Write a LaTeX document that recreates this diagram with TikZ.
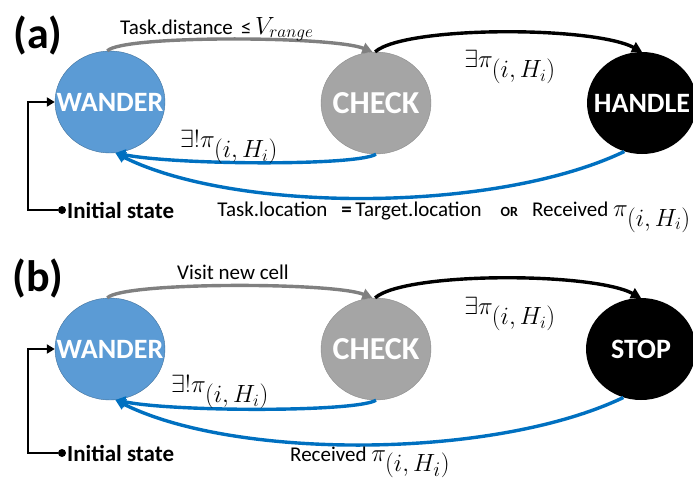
\documentclass[tikz,border=0pt]{standalone}
\usepackage{amsmath,amssymb}
\usepackage{fontspec}
\setmainfont{Carlito}
\usetikzlibrary{arrows.meta,shapes.geometric}

\definecolor{wanderblue}{HTML}{5B9BD5}
\definecolor{wanderedge}{HTML}{41719C}
\definecolor{checkgray}{HTML}{A5A5A5}
\definecolor{checkedge}{HTML}{8C8C8C}
\definecolor{backblue}{HTML}{0070C0}
\definecolor{walkgray}{HTML}{808080}

\tikzset{
  statetext/.style={text=white, inner sep=0pt, font=\fontsize{28}{28}\selectfont\bfseries},
  state/.style={ellipse, minimum width=110pt, minimum height=102pt, inner sep=0pt,
    label={[statetext]center:#1}},
  trans/.style={line width=3.4pt, -{Triangle[length=10pt,width=11pt]}},
  lbl/.style={font=\fontsize{21}{21}\selectfont, inner sep=0pt},
  cond/.style={font=\fontsize{24}{24}\selectfont, inner sep=0pt},
  tag/.style={font=\fontsize{44}{44}\selectfont\bfseries, inner sep=0pt}
}

\begin{document}
\begin{tikzpicture}[x=1pt, y=-1pt]
  \useasboundingbox (0,0) rectangle (693,480);
  \clip (0,0) rectangle (693,480);

  % --- (a) task handling ---
  \node[tag] (tagA) at (38,35) {(a)};
  \node[state=WANDER, fill=wanderblue, draw=wanderedge] (wanderA) at (110,102) {};
  \node[state={\fontsize{32}{32}\selectfont CHECK}, fill=checkgray, draw=checkedge] (checkA) at (376,103) {};
  \node[state=HANDLE, fill=black] (handleA) at (642,103) {};

  \draw[trans, walkgray] (wanderA.93) .. controls +(15,-16) and +(-40,-16) .. (checkA.94);
  \draw[trans, black] (checkA.91) .. controls +(30,-26) and +(-50,-26) .. (handleA.90);
  \draw[trans, backblue] (checkA.270) .. controls +(-20,12) and +(60,12) .. (wanderA.276);
  \draw[trans, backblue] (handleA.250) .. controls +(-130,62) and +(120,60) .. (wanderA.276);

  \node[lbl, anchor=base west] (distA) at (120,34) {Task.distance \,≤\,{\fontsize{26}{26}\selectfont$V_{range}$}};
  \node[cond] (existsA) at (510,67) {$\exists\pi_{\textstyle(i,H_i)}$};
  \node[cond] (uniqA) at (229,147) {$\exists!\pi_{\textstyle(i,H_i)}$};
  \node[lbl, anchor=base east] (locA) at (691,216) {Task.location \;\,\textbf{=}\,Target.location \;\,
    {\fontsize{14}{14}\selectfont\bfseries OR}\;\, Received \fontsize{26}{26}\selectfont$\pi_{\textstyle(i,H_i)}$};

  \node[circle, fill=black, inner sep=0pt, minimum size=8pt] (initA) at (62,210) {};
  \node[lbl, anchor=west, font=\fontsize{23}{23}\selectfont\bfseries] (initTextA) at (67,210) {Initial state};
  \draw[line width=2.6pt, -{Triangle[length=8pt,width=9pt]}] (initA) -- ++(-34,0) |- (wanderA);

  % --- (b) coverage ---
  \begin{scope}[shift={(0,247)}]
    \node[tag] (tagB) at (38,31) {(b)};
    \node[state=WANDER, fill=wanderblue, draw=wanderedge] (wanderB) at (110,102) {};
    \node[state={\fontsize{32}{32}\selectfont CHECK}, fill=checkgray, draw=checkedge] (checkB) at (376,102) {};
    \node[state=STOP, fill=black] (stopB) at (641,102) {};

    \draw[trans, walkgray] (wanderB.93) .. controls +(15,-16) and +(-40,-16) .. (checkB.94);
    \draw[trans, black] (checkB.91) .. controls +(30,-26) and +(-50,-26) .. (stopB.90);
    \draw[trans, backblue] (checkB.270) .. controls +(-20,12) and +(60,12) .. (wanderB.276);
    \draw[trans, backblue] (stopB.250) .. controls +(-130,62) and +(120,60) .. (wanderB.276);

    \node[lbl] (visitB) at (233,25) {Visit new cell};
    \node[cond] (existsB) at (510,67) {$\exists\pi_{\textstyle(i,H_i)}$};
    \node[cond] (uniqB) at (220,145) {$\exists!\pi_{\textstyle(i,H_i)}$};
    \node[lbl, anchor=base west] (recvB) at (290,214) {Received \fontsize{31}{31}\selectfont$\pi_{\textstyle(i,H_i)}$};

    \node[circle, fill=black, inner sep=0pt, minimum size=8pt] (initB) at (62,206) {};
    \node[lbl, anchor=west, font=\fontsize{23}{23}\selectfont\bfseries] (initTextB) at (67,206) {Initial state};
    \draw[line width=2.6pt, -{Triangle[length=8pt,width=9pt]}] (initB) -- ++(-34,0) |- (wanderB);
  \end{scope}
\end{tikzpicture}
\end{document}
